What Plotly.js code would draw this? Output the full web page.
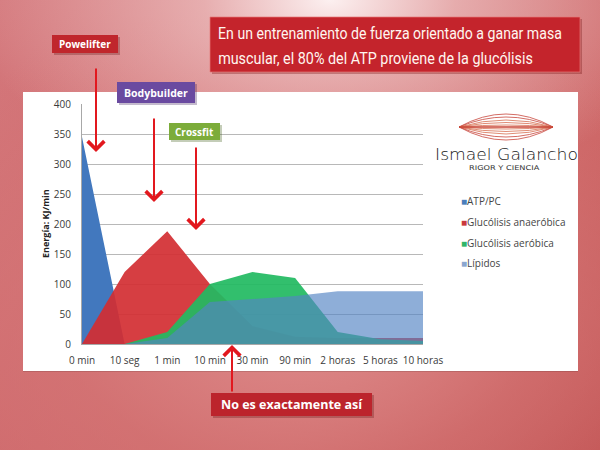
<!DOCTYPE html>
<html>
<head>
<meta charset="utf-8">
<script src="https://cdn.plot.ly/plotly-3.0.1.min.js"></script>
<style>
html,body{margin:0;padding:0;}
#wrap{width:600px;height:450px;position:relative;overflow:hidden;
background:
 radial-gradient(ellipse 60% 45% at 55% 0%, rgba(252,240,240,1) 0%, rgba(240,200,200,0.7) 35%, rgba(230,160,160,0) 100%),
 radial-gradient(ellipse 80% 70% at 50% 70%, rgba(222,140,140,1) 0%, rgba(214,120,120,0.6) 50%, rgba(200,90,90,0) 100%),
 linear-gradient(135deg, #d4787c 0%, #cf6a6e 35%, #cc6464 70%, #bf4f4f 100%);}
#chart{width:600px;height:450px;position:absolute;left:0;top:0;}
</style>
</head>
<body>
<div id="wrap"><div id="chart"></div></div>
<script>
// ---- data ----
const categories = ['0 min','10 seg','1 min','10 min','30 min','90 min','2 horas','5 horas','10 horas'];
const atpPc          = [345, 0, 0, 0, 0, 0, 0, 0, 0];
const glucAnaerobica = [0, 120, 188, 100, 30, 12, 10, 10, 10];
const glucAerobica   = [0, 0, 20, 100, 120, 110, 20, 8, 5];
const lipidos        = [0, 0, 10, 70, 75, 80, 88, 88, 88];
const seriesNames = ['ATP/PC', 'Glucólisis anaeróbica', 'Glucólisis aeróbica', 'Lípidos'];
const yTickVals = [0, 50, 100, 150, 200, 250, 300, 350, 400];
const yTitle = 'Energía: KJ/min';
const titleLines = ['En un entrenamiento de fuerza orientado a ganar masa', 'muscular, el 80% del ATP proviene de la glucólisis'];
const athleteLabels = ['Powelifter', 'Bodybuilder', 'Crossfit'];
const bottomLabel = 'No es exactamente así';
const logoName = 'Ismael Galancho';
const logoSub = 'RIGOR Y CIENCIA';

// ---- styles ----
const fills = ['rgba(66,120,190,1)', 'rgba(210,46,50,0.92)', 'rgba(34,186,98,0.93)', 'rgba(84,132,196,0.66)'];
const legendColors = ['#4a7ebb', '#c9383c', '#2fb56a', '#8aa6cf'];
const seriesData = [atpPc, glucAnaerobica, glucAerobica, lipidos];

// plot area in pixels
const L = 82, R = 423, T = 104, B = 344;
const px = x => (x - L) / (R - L);
const py = y => (B - y) / (B - T);

const traces = seriesData.map((d, i) => ({
  type: 'scatter', x: categories, y: d, name: seriesNames[i],
  mode: 'none', fill: 'tozeroy', fillcolor: fills[i], showlegend: false, hoverinfo: 'skip'
}));

const shapes = [];
const annotations = [];
const squeeze = {}; // text -> {w: target width, left: target left x}
function rect(x0, y0, x1, y1, color, layer, line) {
  shapes.push({type: 'rect', xref: 'paper', yref: 'paper', x0: px(x0), x1: px(x1), y0: py(y1), y1: py(y0),
    fillcolor: color, line: line || {width: 0}, layer: layer || 'above'});
}
function text(x, y, t, font, xanchor, align) {
  annotations.push({xref: 'paper', yref: 'paper', x: px(x), y: py(y), text: t, showarrow: false,
    xanchor: xanchor || 'center', yanchor: 'middle', align: align || 'center', font: font});
}
function arrow(x, ytip, ytail) {
  annotations.push({xref: 'paper', yref: 'paper', x: px(x), y: py(ytip), ax: 0, ay: ytail - ytip, text: '',
    showarrow: true, arrowhead: 4, arrowsize: 1.6, arrowwidth: 2, arrowcolor: 'rgb(226,24,30)'});
}

// white panel
rect(23, 92, 578, 372, 'rgba(0,0,0,0.12)', 'below');
rect(23, 92, 578, 371, '#ffffff', 'below');

// title box
rect(212, 19, 582, 74, 'rgba(120,20,20,0.35)', 'above');
rect(210, 17, 580, 72, 'rgb(196,36,44)', 'above', {color: 'rgba(230,120,120,0.7)', width: 1});
const titleFont = {family: 'Roboto, sans-serif', size: 16.5, color: '#fff6f0', weight: 400};
text(395, 34, titleLines[0], titleFont, 'center');
text(395, 58, titleLines[1], titleFont, 'center');
squeeze[titleLines[0]] = {w: 344, left: 218};
squeeze[titleLines[1]] = {w: 315, left: 218};

// athlete labels
const boxFont = s => ({family: 'Open Sans, sans-serif', size: s, color: '#ffffff', weight: 700});
rect(54, 37, 120, 55, 'rgba(100,20,20,0.3)', 'above');
rect(52, 35, 118, 53, 'rgb(192,38,44)', 'above');
text(85, 44, athleteLabels[0], boxFont(10));
rect(119, 84, 197, 105, 'rgba(60,30,90,0.3)', 'above');
rect(117, 82, 195, 103, 'rgb(106,74,160)', 'above');
text(156, 92.5, athleteLabels[1], boxFont(10.5));
rect(171, 125, 222, 142, 'rgba(60,90,20,0.3)', 'above');
rect(169, 123, 220, 140, 'rgb(124,172,58)', 'above');
text(194.5, 131.5, athleteLabels[2], boxFont(10));
rect(213, 395, 374, 418, 'rgba(100,20,20,0.3)', 'above');
rect(211, 393, 372, 416, 'rgb(188,36,44)', 'above');
text(291.5, 404.5, bottomLabel, boxFont(12.5));

// arrows
arrow(96, 152, 67);
arrow(154, 202, 117);
arrow(196, 230, 146);
arrow(232, 345, 393);

// logo lens
const lx0 = 459, lx1 = 553, lyc = 127;
[-26, -20, -14, -9, -4, 4, 9, 14, 20, 26].forEach(k => {
  const xm = (lx0 + lx1) / 2;
  shapes.push({type: 'path', xref: 'paper', yref: 'paper',
    path: `M${px(lx0)},${py(lyc)} Q${px(xm)},${py(lyc + k)} ${px(lx1)},${py(lyc)}`,
    line: {color: Math.abs(k) > 15 ? 'rgb(200,70,60)' : 'rgb(215,110,80)', width: 0.8}, layer: 'above'});
});
shapes.push({type: 'line', xref: 'paper', yref: 'paper', x0: px(lx0), x1: px(lx1), y0: py(lyc), y1: py(lyc),
  line: {color: 'rgb(200,70,55)', width: 1.4}, layer: 'above'});
text(506.5, 155, logoName, {family: 'DejaVu Sans, sans-serif', size: 15, color: '#222', weight: 300});
squeeze[logoName] = {w: 143, left: 435};
text(505, 168, logoSub, {family: 'DejaVu Sans, sans-serif', size: 6.5, color: '#333'});
squeeze[logoSub] = {w: 71, left: 469};

// legend (built from series names)
const legY = [200.5, 222, 243, 263];
seriesNames.forEach((n, i) => {
  text(459, legY[i], `<span style="color:${legendColors[i]}">■</span>${n}`,
    {family: 'Open Sans, sans-serif', size: 10, color: '#454545'}, 'left');
});

// y axis title
annotations.push({xref: 'paper', yref: 'paper', x: px(45), y: py(224), text: yTitle, showarrow: false,
  textangle: -90, xanchor: 'center', yanchor: 'middle',
  font: {family: 'Open Sans, sans-serif', size: 9, color: '#222', weight: 700}});

const layout = {
  width: 600, height: 450,
  margin: {l: L, r: 600 - R, t: T, b: 450 - B},
  paper_bgcolor: 'rgba(0,0,0,0)', plot_bgcolor: 'rgba(0,0,0,0)',
  showlegend: false,
  xaxis: {type: 'category', range: [0, 8], showgrid: false, zeroline: false,
    showline: true, linecolor: '#a8a8a8', linewidth: 1, ticks: '', ticklabelstandoff: 7,
    tickfont: {family: 'Open Sans, sans-serif', size: 10, color: '#3a3a3a'}},
  yaxis: {range: [0, 400], tickvals: yTickVals, showgrid: true, gridcolor: '#b8b8b8', gridwidth: 1,
    zeroline: false, showline: true, linecolor: '#a8a8a8', ticks: '', ticklabelstandoff: 8,
    tickfont: {family: 'Open Sans, sans-serif', size: 10, color: '#3a3a3a'}},
  shapes: shapes, annotations: annotations
};

Plotly.newPlot('chart', traces, layout, {staticPlot: true, displayModeBar: false}).then(gd => {
  const root = gd.getBoundingClientRect();
  gd.querySelectorAll('text.annotation-text').forEach(el => {
    const s = squeeze[el.textContent];
    if (!s) return;
    const r = el.getBoundingClientRect();
    const sx = s.w / r.width;
    // current left in page px -> local: scale about the text's left, then shift to target left
    const bb = el.getBBox();
    const ctm = el.getScreenCTM();
    const dxLocal = (s.left - (r.left - root.left)) / (ctm ? ctm.a : 1);
    const prev = el.getAttribute('transform') || '';
    el.setAttribute('transform',
      `translate(${bb.x + dxLocal},0) scale(${sx},1) translate(${-bb.x},0) ${prev}`);
  });
});
</script>
</body>
</html>
